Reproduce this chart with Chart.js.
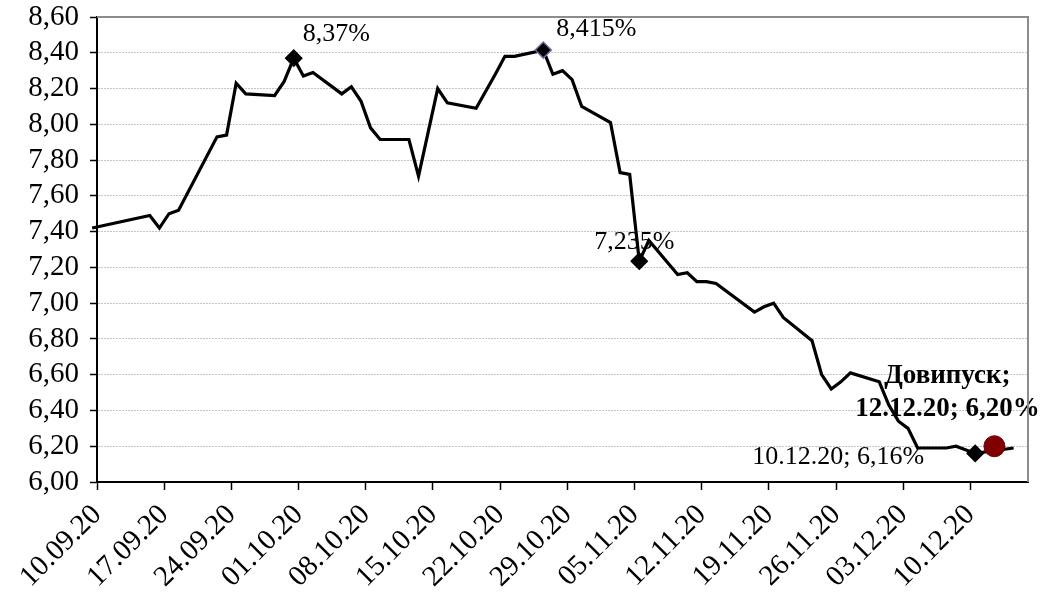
<!DOCTYPE html>
<html lang="uk">
  <head>
    <meta charset="utf-8">
    <title>Дохідність</title>
    <script src="https://cdn.jsdelivr.net/npm/chart.js@4.4.0/dist/chart.umd.min.js"></script>
    <style>
      body { margin: 0; background: #fff; }
    </style>
  </head>
  <body>
    <canvas id="chart" width="1044" height="595"></canvas>
    <script>
      // daily yield, %
      const dates = [
        '09.09.20', '15.09.20', '16.09.20', '17.09.20', '18.09.20', '22.09.20', '23.09.20', '24.09.20',
        '25.09.20', '28.09.20', '29.09.20', '30.09.20', '01.10.20', '02.10.20', '05.10.20', '06.10.20',
        '07.10.20', '08.10.20', '09.10.20', '12.10.20', '13.10.20', '15.10.20', '16.10.20', '19.10.20',
        '21.10.20', '22.10.20', '23.10.20', '26.10.20', '27.10.20', '28.10.20', '29.10.20', '30.10.20',
        '02.11.20', '03.11.20', '04.11.20', '05.11.20', '06.11.20', '09.11.20', '10.11.20', '11.11.20',
        '12.11.20', '13.11.20', '17.11.20', '18.11.20', '19.11.20', '20.11.20', '23.11.20', '24.11.20',
        '25.11.20', '26.11.20', '27.11.20', '30.11.20', '01.12.20', '02.12.20', '03.12.20', '04.12.20',
        '07.12.20', '08.12.20', '10.12.20', '14.12.20'
      ];
      const yields = [
        7.42, 7.49, 7.42, 7.50, 7.52, 7.93, 7.94, 8.23,
        8.17, 8.16, 8.24, 8.37, 8.27, 8.29, 8.17, 8.21,
        8.13, 7.98, 7.915, 7.915, 7.71, 8.20, 8.12, 8.09,
        8.28, 8.38, 8.38, 8.415, 8.28, 8.30, 8.25, 8.10,
        8.01, 7.73, 7.72, 7.235, 7.35, 7.16, 7.17, 7.12,
        7.12, 7.11, 6.95, 6.98, 7.00, 6.92, 6.79, 6.60,
        6.52, 6.56, 6.61, 6.56, 6.43, 6.34, 6.30, 6.19,
        6.19, 6.20, 6.16, 6.19
      ];

      // marked points
      const markDates = ['30.09.20', '26.10.20', '05.11.20', '10.12.20'];
      const markValues = [8.37, 8.415, 7.235, 6.16];
      const markLabels = ['8,37%', '8,415%', '7,235%', '10.12.20; 6,16%'];

      const extraDates = ['12.12.20'];
      const extraValues = [6.20];
      const extraLabels = [['Довипуск;', '12.12.20; 6,20%']];

      const xTickLabels = [
        '10.09.20', '17.09.20', '24.09.20', '01.10.20', '08.10.20', '15.10.20', '22.10.20',
        '29.10.20', '05.11.20', '12.11.20', '19.11.20', '26.11.20', '03.12.20', '10.12.20'
      ];

      const FONT = "'Liberation Serif', 'Times New Roman', serif";

      function toDay(s) {
        const [d, m, y] = s.split('.').map(Number);
        return (Date.UTC(2000 + y, m - 1, d) - Date.UTC(2020, 8, 10)) / 86400000;
      }
      const pts = (ds, vs) => ds.map((d, i) => ({ x: toDay(d), y: vs[i] }));

      const areaBorder = {
        id: 'areaBorder',
        afterDraw(chart) {
          const { ctx, chartArea: a } = chart;
          ctx.save();
          ctx.strokeStyle = '#8c8c8c';
          ctx.lineWidth = 2;
          ctx.beginPath();
          ctx.moveTo(a.left, a.top);
          ctx.lineTo(a.right, a.top);
          ctx.lineTo(a.right, a.bottom);
          ctx.stroke();
          ctx.restore();
        }
      };

      const pointLabels = {
        id: 'pointLabels',
        afterDatasetsDraw(chart) {
          const ctx = chart.ctx;
          const mk = chart.getDatasetMeta(1).data;
          const ex = chart.getDatasetMeta(0).data;
          ctx.save();
          ctx.fillStyle = '#000';
          ctx.textBaseline = 'middle';
          ctx.font = '26px ' + FONT;
          // [dx, dy, align]
          const offs = [[9, -24, 'left'], [13, -21, 'left'], [-45, -19, 'left'], [-51, 4, 'right']];
          mk.forEach((p, i) => {
            ctx.textAlign = offs[i][2];
            ctx.fillText(markLabels[i], p.x + offs[i][0], p.y + offs[i][1]);
          });
          ctx.font = 'bold 27px ' + FONT;
          ctx.textAlign = 'center';
          ex.forEach((p, i) => {
            ctx.fillText(extraLabels[i][0], p.x - 47, p.y - 70);
            ctx.fillText(extraLabels[i][1], p.x - 47, p.y - 37);
          });
          ctx.restore();
        }
      };

      new Chart(document.getElementById('chart'), {
        type: 'line',
        data: {
          datasets: [
            {
              data: pts(extraDates, extraValues),
              showLine: false,
              pointStyle: 'circle',
              pointRadius: 10.5,
              backgroundColor: '#800000',
              borderColor: '#6a0000',
              borderWidth: 1,
              order: 1
            },
            {
              data: pts(markDates, markValues),
              showLine: false,
              pointStyle: 'rectRot',
              pointRadius: 8,
              backgroundColor: '#000',
              borderColor: ['#000', '#6c6ca8', '#000', '#000'],
              borderWidth: 1.5,
              order: 2
            },
            {
              data: pts(dates, yields),
              borderColor: '#000',
              borderWidth: 3.2,
              pointRadius: 0,
              tension: 0,
              clip: false,
              order: 3
            }
          ]
        },
        options: {
          responsive: false,
          animation: false,
          layout: { padding: { top: 17, right: 16, left: 0, bottom: 0 } },
          plugins: { legend: { display: false }, tooltip: { enabled: false } },
          scales: {
            x: {
              type: 'linear',
              min: -0.5,
              max: 96.5,
              afterFit(s) { s.height = 113; },
              afterBuildTicks(s) {
                s.ticks = xTickLabels.map(t => ({ value: toDay(t) - 0.5 }));
              },
              grid: {
                drawOnChartArea: false,
                tickLength: 8,
                tickColor: '#000',
                tickWidth: 1.5
              },
              border: { color: '#000', width: 2 },
              ticks: {
                autoSkip: false,
                minRotation: 45,
                maxRotation: 45,
                padding: 8,
                color: '#000',
                font: { family: FONT, size: 29 },
                callback: (v, i) => xTickLabels[i]
              }
            },
            y: {
              min: 6,
              max: 8.6,
              afterFit(s) {
                s.width = 97;
                s.paddingTop = 0;
                s.paddingBottom = 0;
              },
              grid: {
                color: '#c4c4c4',
                lineWidth: 1,
                tickLength: 7,
                tickColor: '#000',
                tickWidth: 1.5
              },
              border: { color: '#000', width: 2, dash: [2, 1] },
              ticks: {
                autoSkip: false,
                stepSize: 0.2,
                padding: 11,
                color: '#000',
                font: { family: FONT, size: 29 },
                callback: v => v.toFixed(2).replace('.', ',')
              }
            }
          }
        },
        plugins: [areaBorder, pointLabels]
      });
    </script>
  </body>
</html>
